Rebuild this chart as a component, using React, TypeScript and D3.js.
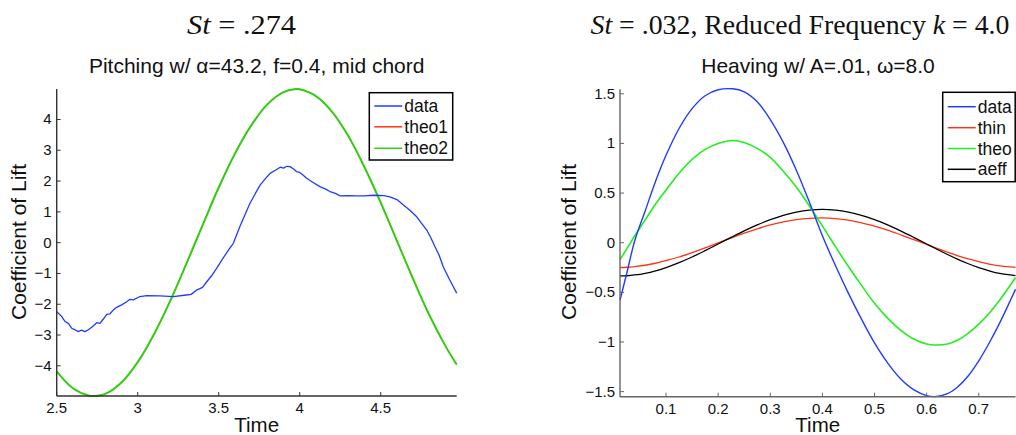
import * as d3 from "d3";
import React from "react";

// ---- left panel: pitching ----
const leftXTicks = [2.5, 3, 3.5, 4, 4.5];
const leftYTicks = [-4, -3, -2, -1, 0, 1, 2, 3, 4];

const pitchTime = [
  2.5, 2.531, 2.551, 2.572, 2.593, 2.613, 2.633, 2.654, 2.675, 2.695, 2.716,
  2.736, 2.747, 2.767, 2.788, 2.809, 2.829, 2.849, 2.87, 2.901, 2.932, 2.952,
  2.973, 3.014, 3.056, 3.138, 3.22, 3.3, 3.33, 3.364, 3.4, 3.426, 3.46, 3.488,
  3.52, 3.56, 3.59, 3.63, 3.693, 3.755, 3.8, 3.817, 3.85, 3.88, 3.9, 3.92, 3.94,
  3.96, 3.98, 4.0, 4.02, 4.043, 4.08, 4.125, 4.16, 4.187, 4.22, 4.249, 4.3,
  4.352, 4.4, 4.454, 4.52, 4.557, 4.6, 4.64, 4.68, 4.722, 4.75, 4.784, 4.81,
  4.835, 4.86, 4.886, 4.92, 4.945, 4.969,
];
const pitchData = [
  -2.24, -2.4, -2.56, -2.62, -2.78, -2.83, -2.89, -2.84, -2.89, -2.83, -2.75,
  -2.66, -2.6, -2.62, -2.48, -2.33, -2.31, -2.19, -2.1, -2.02, -1.92, -1.84,
  -1.86, -1.75, -1.72, -1.73, -1.75, -1.7, -1.68, -1.54, -1.45, -1.27, -1.05,
  -0.83, -0.56, -0.24, -0.02, 0.52, 1.28, 1.87, 2.15, 2.25, 2.35, 2.45, 2.42,
  2.48, 2.47, 2.4, 2.31, 2.28, 2.2, 2.09, 1.96, 1.82, 1.74, 1.66, 1.6, 1.52,
  1.53, 1.52, 1.52, 1.54, 1.53, 1.49, 1.4, 1.22, 1.05, 0.84, 0.64, 0.41, 0.15,
  -0.13, -0.4, -0.78, -1.15, -1.4, -1.64,
];

const theoTime = [
  2.5, 2.6, 2.7, 2.73, 2.8, 2.9, 3.0, 3.1, 3.2, 3.3, 3.4, 3.5, 3.6, 3.7, 3.8,
  3.9, 3.98, 4.0, 4.1, 4.2, 4.3, 4.4, 4.5, 4.6, 4.7, 4.8, 4.9, 4.969,
];
const theo1 = [
  -4.18, -4.73, -4.97, -4.98, -4.91, -4.54, -3.88, -2.98, -1.9, -0.69, 0.56,
  1.79, 2.89, 3.8, 4.49, 4.89, 4.99, 4.98, 4.76, 4.25, 3.46, 2.45, 1.3, 0.06,
  -1.18, -2.35, -3.36, -3.96,
];
const theo2 = [
  -4.18, -4.73, -4.97, -4.98, -4.91, -4.54, -3.88, -2.98, -1.9, -0.69, 0.56,
  1.79, 2.89, 3.8, 4.49, 4.89, 4.99, 4.98, 4.76, 4.25, 3.46, 2.45, 1.3, 0.06,
  -1.18, -2.35, -3.36, -3.96,
];

// ---- right panel: heaving ----
const rightXTicks = [0.1, 0.2, 0.3, 0.4, 0.5, 0.6, 0.7];
const rightYTicks = [-1.5, -1, -0.5, 0, 0.5, 1, 1.5];

const heaveTime = [
  0.0117, 0.025, 0.04, 0.06, 0.08, 0.1, 0.125, 0.15, 0.175, 0.2, 0.228, 0.25,
  0.275, 0.3, 0.325, 0.35, 0.375, 0.4, 0.425, 0.45, 0.475, 0.5, 0.525, 0.55,
  0.575, 0.6, 0.616, 0.64, 0.66, 0.68, 0.7, 0.72, 0.74, 0.7705,
];
const heaveData = [
  -0.58, -0.3, 0.02, 0.32, 0.62, 0.88, 1.15, 1.35, 1.48, 1.54, 1.55, 1.52,
  1.42, 1.24, 1.01, 0.73, 0.41, 0.07, -0.23, -0.51, -0.77, -1.01, -1.21, -1.37,
  -1.48, -1.54, -1.55, -1.52, -1.45, -1.34, -1.19, -1.01, -0.81, -0.47,
];
const heaveThin = [
  -0.25, -0.247, -0.24, -0.227, -0.207, -0.18, -0.144, -0.1, -0.052, -0.002,
  0.054, 0.096, 0.14, 0.179, 0.21, 0.233, 0.246, 0.25, 0.243, 0.227, 0.2, 0.168,
  0.127, 0.08, 0.032, -0.018, -0.05, -0.096, -0.132, -0.164, -0.19, -0.215,
  -0.233, -0.248,
];
const heaveTheo = [
  -0.17, -0.06, 0.07, 0.23, 0.39, 0.53, 0.7, 0.84, 0.94, 1.0, 1.03, 1.01, 0.95,
  0.86, 0.72, 0.56, 0.37, 0.17, -0.04, -0.24, -0.43, -0.61, -0.76, -0.88, -0.97,
  -1.02, -1.03, -1.02, -0.98, -0.91, -0.82, -0.71, -0.58, -0.35,
];
const heaveAeff = [
  -0.335, -0.333, -0.325, -0.308, -0.283, -0.251, -0.201, -0.144, -0.08,
  -0.013, 0.062, 0.119, 0.179, 0.232, 0.276, 0.308, 0.328, 0.335, 0.328, 0.308,
  0.276, 0.232, 0.18, 0.119, 0.054, -0.013, -0.056, -0.119, -0.168, -0.212,
  -0.251, -0.283, -0.309, -0.331,
];

const BLUE = "#1f3cff";
const RED = "#ff3318";
const GREEN_L = "#33cc11";
const GREEN_R = "#22ee22";
const SANS = "'Liberation Sans', Arial, sans-serif";
const SERIF = "'Liberation Serif', 'Times New Roman', serif";

const minus = (t: number, s: string) => (t < 0 ? "\u2212" + s.replace("-", "") : s);

const Series = ({ xs, ys, x, y, color, width, curve }: any) => {
  const pts: [number, number][] = xs.map((t: number, i: number) => [t, ys[i]]);
  const line = d3
    .line<[number, number]>()
    .x((d) => x(d[0]))
    .y((d) => y(d[1]))
    .curve(curve || d3.curveLinear);
  return <path d={line(pts) || ""} fill="none" stroke={color} strokeWidth={width} strokeLinejoin="round" />;
};

const Axes = ({ x, y, xTicks, yTicks, xLabel, axisColor }: any) => {
  const [x0, x1] = x.range();
  const [y0, y1] = y.range();
  return (
    <g fontFamily={SANS} fill="#111">
      <line x1={x0} x2={x0} y1={y1} y2={y0} stroke={axisColor} strokeWidth={1.4} />
      <line x1={x0} x2={x1} y1={y0} y2={y0} stroke={axisColor} strokeWidth={1.4} />
      {xTicks.map((t: number) => (
        <g key={"x" + t}>
          <line x1={x(t)} x2={x(t)} y1={y0} y2={y0 - 4} stroke={axisColor} strokeWidth={1} />
          <text x={x(t)} y={y0 + 17} fontSize={15} textAnchor="middle">
            {String(t)}
          </text>
        </g>
      ))}
      {yTicks.map((t: number) => (
        <g key={"y" + t}>
          <line x1={x0} x2={x0 + 4} y1={y(t)} y2={y(t)} stroke={axisColor} strokeWidth={1} />
          <text x={x0 - 5} y={y(t) + 5} fontSize={15} textAnchor="end">
            {minus(t, String(t))}
          </text>
        </g>
      ))}
      <text x={(x0 + x1) / 2} y={432} fontSize={20.5} textAnchor="middle">
        {xLabel}
      </text>
    </g>
  );
};

const Legend = ({ x0, y0, w, h, items, rowY }: any) => (
  <g fontFamily={SANS}>
    <rect x={x0} y={y0} width={w} height={h} fill="#fff" stroke="#000" strokeWidth={1.5} />
    {items.map((it: any, i: number) => (
      <g key={it.label}>
        <line x1={x0 + 5} x2={x0 + 33} y1={rowY[i]} y2={rowY[i]} stroke={it.color} strokeWidth={1.5} />
        <text x={x0 + 35} y={rowY[i] + 6} fontSize={17.5} fill="#111">
          {it.label}
        </text>
      </g>
    ))}
  </g>
);

export default function App() {
  const lx = d3.scaleLinear().domain([2.5, 4.969]).range([56.7, 456.7]);
  const ly = d3.scaleLinear().domain([-4.98, 4.99]).range([396, 89]);
  const rx = d3.scaleLinear().domain([0.0117, 0.7705]).range([620, 1015.5]);
  const ry = d3.scaleLinear().domain([-1.551, 1.545]).range([396.7, 89.3]);

  return (
    <svg width={1016} height={435} style={{ position: "absolute", left: 0, top: 0, background: "#fff" }}>
      <defs>
        <clipPath id="clipL">
          <rect x={56} y={86} width={402} height={312} />
        </clipPath>
        <clipPath id="clipR">
          <rect x={619} y={86} width={398} height={312} />
        </clipPath>
      </defs>

      {/* top titles */}
      <text x={241.5} y={34} fontSize={27} textAnchor="middle" fontFamily={SERIF} fill="#111" textLength={109} lengthAdjust="spacingAndGlyphs">
        <tspan fontStyle="italic">St</tspan> = .274
      </text>
      <text x={800} y={34} fontSize={27} textAnchor="middle" fontFamily={SERIF} fill="#111" textLength={419} lengthAdjust="spacingAndGlyphs">
        <tspan fontStyle="italic">St</tspan> = .032, Reduced Frequency <tspan fontStyle="italic">k</tspan> = 4.0
      </text>
      <text x={256.7} y={73} fontSize={21} textAnchor="middle" fontFamily={SANS} fill="#111">
        Pitching w/ α=43.2, f=0.4, mid chord
      </text>
      <text x={818} y={73} fontSize={21} textAnchor="middle" fontFamily={SANS} fill="#111">
        Heaving w/ A=.01, ω=8.0
      </text>

      {/* left panel */}
      <g clipPath="url(#clipL)">
        <Series xs={theoTime} ys={theo1} x={lx} y={ly} color={RED} width={1} curve={d3.curveCatmullRom} />
        <Series xs={theoTime} ys={theo2} x={lx} y={ly} color={GREEN_L} width={2} curve={d3.curveCatmullRom} />
        <Series xs={pitchTime} ys={pitchData} x={lx} y={ly} color={BLUE} width={1.3} />
      </g>
      <Axes x={lx} y={ly} xTicks={leftXTicks} yTicks={leftYTicks} xLabel="Time" axisColor="#333" />
      <text transform="translate(26,242) rotate(-90)" fontSize={21} textAnchor="middle" fontFamily={SANS} fill="#111">
        Coefficient of Lift
      </text>
      <Legend
        x0={369.3}
        y0={92.7}
        w={83.4}
        h={67.3}
        rowY={[106, 126.8, 148.3]}
        items={[
          { label: "data", color: BLUE },
          { label: "theo1", color: RED },
          { label: "theo2", color: GREEN_L },
        ]}
      />

      {/* right panel */}
      <g clipPath="url(#clipR)">
        <Series xs={heaveTime} ys={heaveThin} x={rx} y={ry} color={RED} width={1.3} curve={d3.curveCatmullRom} />
        <Series xs={heaveTime} ys={heaveAeff} x={rx} y={ry} color="#000" width={1.3} curve={d3.curveCatmullRom} />
        <Series xs={heaveTime} ys={heaveTheo} x={rx} y={ry} color={GREEN_R} width={1.6} curve={d3.curveCatmullRom} />
        <Series xs={heaveTime} ys={heaveData} x={rx} y={ry} color={BLUE} width={1.4} curve={d3.curveCatmullRom} />
      </g>
      <Axes x={rx} y={ry} xTicks={rightXTicks} yTicks={rightYTicks} xLabel="Time" axisColor="#666" />
      <text transform="translate(576,242) rotate(-90)" fontSize={21} textAnchor="middle" fontFamily={SANS} fill="#111">
        Coefficient of Lift
      </text>
      <Legend
        x0={942.7}
        y0={92.3}
        w={72.5}
        h={89.4}
        rowY={[106.7, 127.7, 148.5, 169.3]}
        items={[
          { label: "data", color: BLUE },
          { label: "thin", color: RED },
          { label: "theo", color: GREEN_R },
          { label: "aeff", color: "#000" },
        ]}
      />
    </svg>
  );
}
